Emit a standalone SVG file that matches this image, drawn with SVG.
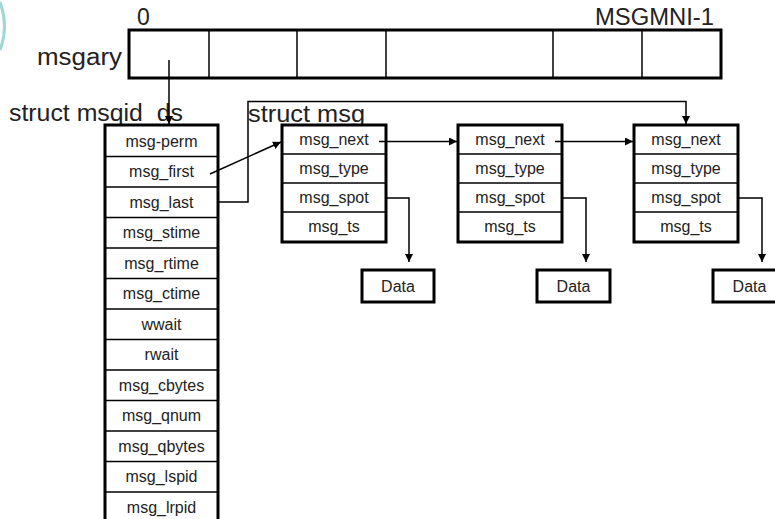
<svg xmlns="http://www.w3.org/2000/svg" width="775" height="519" viewBox="0 0 775 519">
<style>
text{font-family:"Liberation Sans",Arial,sans-serif;fill:#222}
.big{font-size:23px}
.cell{font-size:16px;text-anchor:middle}
.box{fill:#fff;stroke:#000;stroke-width:3}
.div{stroke:#000;stroke-width:1.5}
.con{fill:none;stroke:#000;stroke-width:1.5}
</style>
<defs>
<marker id="ah" viewBox="0 0 10 10" refX="10" refY="5" markerWidth="8" markerHeight="8" markerUnits="userSpaceOnUse" orient="auto">
<path d="M0,0 L10,5 L0,10 z" fill="#000"/>
</marker>
</defs>
<rect width="775" height="519" fill="#fff"/>
<path d="M0,2 Q9,26 0,50" fill="none" stroke="#9fd6d6" stroke-width="3"/>

<g id="msgary">
<text class="big" x="122" y="65" text-anchor="end" textLength="85" lengthAdjust="spacingAndGlyphs">msgary</text>
<text class="big" x="137" y="25">0</text>
<text class="big" x="595" y="25" textLength="119" lengthAdjust="spacingAndGlyphs">MSGMNI-1</text>
<rect class="box" x="129" y="30" width="592" height="48"/>
<line class="div" x1="209" y1="30" x2="209" y2="78"/>
<line class="div" x1="297" y1="30" x2="297" y2="78"/>
<line class="div" x1="386" y1="30" x2="386" y2="78"/>
<line class="div" x1="553" y1="30" x2="553" y2="78"/>
<line class="div" x1="642" y1="30" x2="642" y2="78"/>
</g>

<g id="msqid_ds">
<text class="big" x="9" y="121" textLength="174" lengthAdjust="spacingAndGlyphs">struct msqid_ds</text>
<rect class="box" x="105" y="125" width="113" height="410"/>
<line class="div" x1="105" y1="156.5" x2="218" y2="156.5"/>
<line class="div" x1="105" y1="187" x2="218" y2="187"/>
<line class="div" x1="105" y1="217.5" x2="218" y2="217.5"/>
<line class="div" x1="105" y1="248" x2="218" y2="248"/>
<line class="div" x1="105" y1="278.5" x2="218" y2="278.5"/>
<line class="div" x1="105" y1="309" x2="218" y2="309"/>
<line class="div" x1="105" y1="339.5" x2="218" y2="339.5"/>
<line class="div" x1="105" y1="370" x2="218" y2="370"/>
<line class="div" x1="105" y1="400.5" x2="218" y2="400.5"/>
<line class="div" x1="105" y1="431" x2="218" y2="431"/>
<line class="div" x1="105" y1="461.5" x2="218" y2="461.5"/>
<line class="div" x1="105" y1="492" x2="218" y2="492"/>
<text class="cell" x="161.5" y="146.5">msg-perm</text>
<text class="cell" x="161.5" y="177">msg_first</text>
<text class="cell" x="161.5" y="207.5">msg_last</text>
<text class="cell" x="161.5" y="238">msg_stime</text>
<text class="cell" x="161.5" y="268.5">msg_rtime</text>
<text class="cell" x="161.5" y="299">msg_ctime</text>
<text class="cell" x="161.5" y="329.5">wwait</text>
<text class="cell" x="161.5" y="360">rwait</text>
<text class="cell" x="161.5" y="390.5">msg_cbytes</text>
<text class="cell" x="161.5" y="421">msg_qnum</text>
<text class="cell" x="161.5" y="451.5">msg_qbytes</text>
<text class="cell" x="161.5" y="482">msg_lspid</text>
<text class="cell" x="161.5" y="512.5">msg_lrpid</text>
</g>

<text class="big" x="248" y="122" textLength="117" lengthAdjust="spacingAndGlyphs">struct msg</text>

<g id="msg1">
<rect class="box" x="282" y="125" width="104" height="117"/>
<line class="div" x1="282" y1="154" x2="386" y2="154"/>
<line class="div" x1="282" y1="183" x2="386" y2="183"/>
<line class="div" x1="282" y1="212" x2="386" y2="212"/>
<text class="cell" x="334" y="145">msg_next</text>
<text class="cell" x="334" y="174">msg_type</text>
<text class="cell" x="334" y="203">msg_spot</text>
<text class="cell" x="334" y="232">msg_ts</text>
</g>
<g id="msg2">
<rect class="box" x="458" y="125" width="104" height="117"/>
<line class="div" x1="458" y1="154" x2="562" y2="154"/>
<line class="div" x1="458" y1="183" x2="562" y2="183"/>
<line class="div" x1="458" y1="212" x2="562" y2="212"/>
<text class="cell" x="510" y="145">msg_next</text>
<text class="cell" x="510" y="174">msg_type</text>
<text class="cell" x="510" y="203">msg_spot</text>
<text class="cell" x="510" y="232">msg_ts</text>
</g>
<g id="msg3">
<rect class="box" x="634" y="125" width="104" height="117"/>
<line class="div" x1="634" y1="154" x2="738" y2="154"/>
<line class="div" x1="634" y1="183" x2="738" y2="183"/>
<line class="div" x1="634" y1="212" x2="738" y2="212"/>
<text class="cell" x="686" y="145">msg_next</text>
<text class="cell" x="686" y="174">msg_type</text>
<text class="cell" x="686" y="203">msg_spot</text>
<text class="cell" x="686" y="232">msg_ts</text>
</g>

<g id="data1">
<rect class="box" x="362" y="270" width="72" height="32"/>
<text class="cell" x="398" y="291.5">Data</text>
</g>
<g id="data2">
<rect class="box" x="537" y="270" width="73" height="32"/>
<text class="cell" x="573.5" y="291.5">Data</text>
</g>
<g id="data3">
<rect class="box" x="713" y="270" width="73" height="32"/>
<text class="cell" x="749.5" y="291.5">Data</text>
</g>

<g id="connectors">
<path class="con" d="M169,60 V124" marker-end="url(#ah)"/>
<path class="con" d="M210,174 L281,142" marker-end="url(#ah)"/>
<path class="con" d="M218,202 H248 V101.5 H686 V124" marker-end="url(#ah)"/>
<path class="con" d="M379,141.5 H457" marker-end="url(#ah)"/>
<path class="con" d="M555,141.5 H633" marker-end="url(#ah)"/>
<path class="con" d="M386,198 H409 V262" marker-end="url(#ah)"/>
<path class="con" d="M562,198 H586 V262" marker-end="url(#ah)"/>
<path class="con" d="M738,198 H762 V262" marker-end="url(#ah)"/>
</g>
</svg>
